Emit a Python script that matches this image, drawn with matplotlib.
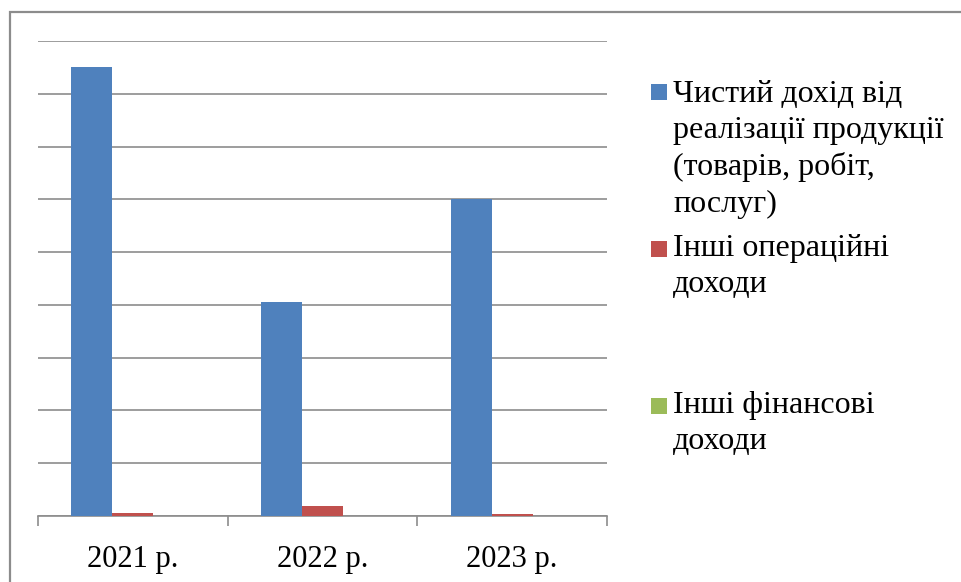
import matplotlib
matplotlib.use("Agg")
import matplotlib.pyplot as plt
from matplotlib.patches import Rectangle
import numpy as np

plt.rcParams['font.family'] = ['Liberation Serif', 'DejaVu Serif']

years = ["2021 р.", "2022 р.", "2023 р."]
series_names = [
    "Чистий дохід від\nреалізації продукції\n(товарів, робіт,\nпослуг)",
    "Інші операційні\nдоходи",
    "Інші фінансові\nдоходи",
]
net_revenue = [8.5, 4.05, 6.0]
other_operating = [0.06, 0.19, 0.035]
other_financial = [0.0, 0.0, 0.0]
colors = ["#4F81BD", "#C0504D", "#9BBB59"]

W, H, DPI = 961, 582, 100
fig = plt.figure(figsize=(W / DPI, H / DPI), dpi=DPI)

# outer chart border
fig.patches.append(Rectangle((10 / W, -0.05), 1.0, (H - 12) / H + 0.05,
                             transform=fig.transFigure, fill=False,
                             edgecolor="#8C8C8C", linewidth=1.6))

ax = fig.add_axes([38 / W, (H - 516) / H, 569 / W, 475 / H])
x = np.arange(len(years))
bw = 0.216
for i, vals in enumerate([net_revenue, other_operating, other_financial]):
    ax.bar(x + (i - 1) * bw, vals, width=bw, color=colors[i], zorder=3)

ax.set_xlim(-0.5, 2.5)
ax.set_ylim(0, 9)
ax.set_yticks(np.arange(0, 10))
ax.yaxis.grid(True, color="#8C8C8C", linewidth=1.2, zorder=0)
ax.tick_params(axis="y", left=False, labelleft=False)
for s in ["top", "right", "left"]:
    ax.spines[s].set_visible(False)
ax.spines["bottom"].set_color("#8C8C8C")
ax.spines["bottom"].set_linewidth(1.2)

ax.set_xticks([-0.5, 0.5, 1.5, 2.5])
ax.set_xticklabels([])
ax.tick_params(axis="x", length=7, color="#8C8C8C", width=1.2, direction="out")
ax.set_xticks(x, minor=True)
ax.set_xticklabels(years, minor=True, fontsize=22)
ax.tick_params(axis="x", which="minor", length=0, pad=21)

# legend drawn entry by entry
entry_tops = [80, 234, 391]
square_tops = [84, 241, 398]
for name, c, ytop, stop in zip(series_names, colors, entry_tops, square_tops):
    sq = 16
    fig.patches.append(Rectangle((651 / W, 1 - (stop + sq) / H), sq / W, sq / H,
                                 transform=fig.transFigure, facecolor=c,
                                 edgecolor="none"))
    fig.text(673 / W, 1 - ytop / H, name, fontsize=23, va="top", ha="left",
             linespacing=1.32)

fig.savefig("out.png", dpi=DPI)
